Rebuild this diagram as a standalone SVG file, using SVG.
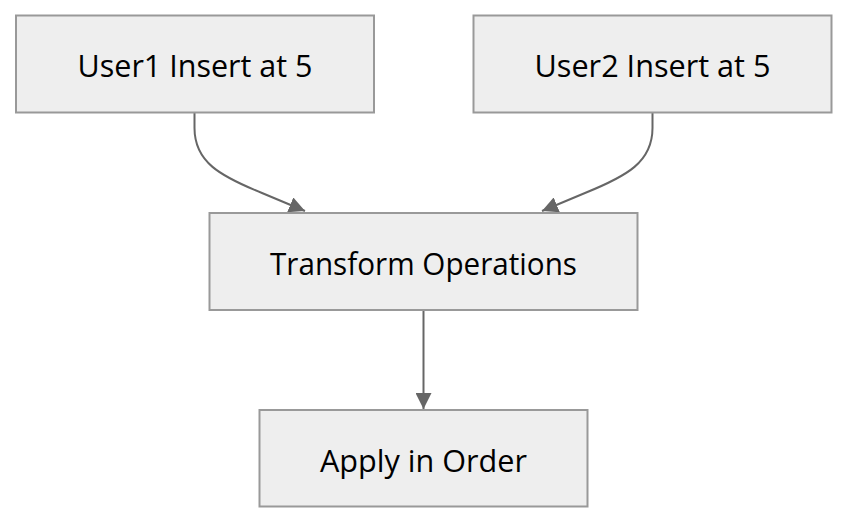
<svg xmlns="http://www.w3.org/2000/svg" width="847" height="523" viewBox="0 0 847 523">
<style>
.node rect{fill:#eeeeee;stroke:#999999;stroke-width:2}
.node text{font-family:"Open Sans","DejaVu Sans",sans-serif;font-size:31px;fill:#000;text-anchor:middle}
.edge{fill:none;stroke:#666666;stroke-width:2}
</style>
<defs>
<marker id="arrow" viewBox="0 0 10 10" refX="10" refY="5" markerUnits="userSpaceOnUse" markerWidth="16" markerHeight="16" orient="auto">
<path d="M0,0 L10,5 L0,10 z" fill="#666666"/>
</marker>
</defs>
<g id="connectors">
<path class="edge" d="M194.5,113 L194.5,128 C194.5,162 220,176 262,193 L305,211" marker-end="url(#arrow)"/>
<path class="edge" d="M652.5,113 L652.5,128 C652.5,162 627,176 585,193 L542,211" marker-end="url(#arrow)"/>
<path class="edge" d="M423.5,311 L423.5,409" marker-end="url(#arrow)"/>
</g>
<g id="user1" class="node">
<rect x="16" y="15.5" width="358" height="97"/>
<text x="195" y="77" textLength="235" lengthAdjust="spacingAndGlyphs">User1 Insert at 5</text>
</g>
<g id="user2" class="node">
<rect x="473.5" y="15.5" width="358" height="97"/>
<text x="652.5" y="77" textLength="236" lengthAdjust="spacingAndGlyphs">User2 Insert at 5</text>
</g>
<g id="transform" class="node">
<rect x="209.5" y="213" width="428" height="97"/>
<text x="423.5" y="275" textLength="307" lengthAdjust="spacingAndGlyphs">Transform Operations</text>
</g>
<g id="apply" class="node">
<rect x="259.5" y="410" width="328" height="96.5"/>
<text x="423.5" y="472" textLength="207" lengthAdjust="spacingAndGlyphs">Apply in Order</text>
</g>
</svg>
